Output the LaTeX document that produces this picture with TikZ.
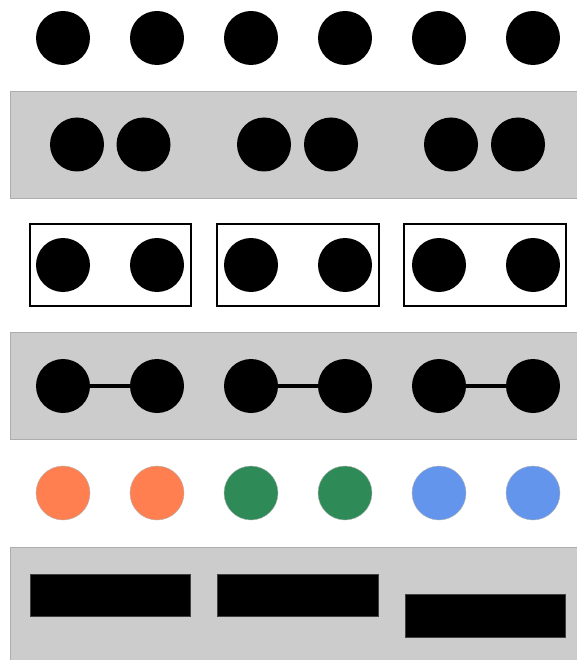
\documentclass[tikz,border=0pt]{standalone}
\begin{document}
\begin{tikzpicture}[x=1pt,y=-1pt,
  dot/.style={circle,fill=black,minimum size=54pt,inner sep=0pt,outer sep=0pt},
  cdot/.style={circle,fill=#1,draw=gray!60,line width=0.4pt,minimum size=54pt,inner sep=0pt,outer sep=0pt},
  band/.style={fill=black!20,draw=black!32,line width=0.8pt},
  frame/.style={draw=black,line width=1.6pt},
  bar/.style={fill=black,draw=black!75,line width=0.5pt},
  link/.style={line width=4.5pt}]
\definecolor{coralc}{HTML}{FF7F50}
\definecolor{seagreenc}{HTML}{2E8B57}
\definecolor{cornflowerc}{HTML}{6495ED}
\useasboundingbox (0,0) rectangle (576,660);
\fill[white] (0,0) rectangle (576,660);
% bands
\draw[band] (10,91) rectangle (580,198);
\draw[band] (10,332) rectangle (580,439);
\draw[band] (10,547) rectangle (580,664);
% row 1
\foreach \i/\x in {1/63,2/157,3/251,4/345,5/439,6/533}
  \node[dot] (r1c\i) at (\x,38) {};
% row 2
\foreach \i/\x in {1/77,2/143.5,3/264,4/331,5/451,6/518}
  \node[dot] (r2c\i) at (\x,144.5) {};
% row 3
\draw[frame] (30,224) rectangle (191,306);
\draw[frame] (217,224) rectangle (379,306);
\draw[frame] (404,224) rectangle (566,306);
\foreach \i/\x in {1/63,2/157,3/251,4/345,5/439,6/533}
  \node[dot] (r3c\i) at (\x,265) {};
% row 4
\foreach \i/\x in {1/63,2/157,3/251,4/345,5/439,6/533}
  \node[dot] (r4c\i) at (\x,386) {};
\draw[link] (r4c1) -- (r4c2);
\draw[link] (r4c3) -- (r4c4);
\draw[link] (r4c5) -- (r4c6);
% row 5
\node[cdot=coralc] (r5c1) at (63,493) {};
\node[cdot=coralc] (r5c2) at (157,493) {};
\node[cdot=seagreenc] (r5c3) at (251,493) {};
\node[cdot=seagreenc] (r5c4) at (345,493) {};
\node[cdot=cornflowerc] (r5c5) at (439,493) {};
\node[cdot=cornflowerc] (r5c6) at (533,493) {};
% row 6
\draw[bar] (30,574) rectangle (190.5,616.5);
\draw[bar] (217.5,574) rectangle (378,616.5);
\draw[bar] (405,594) rectangle (565.5,637);
\end{tikzpicture}
\end{document}
